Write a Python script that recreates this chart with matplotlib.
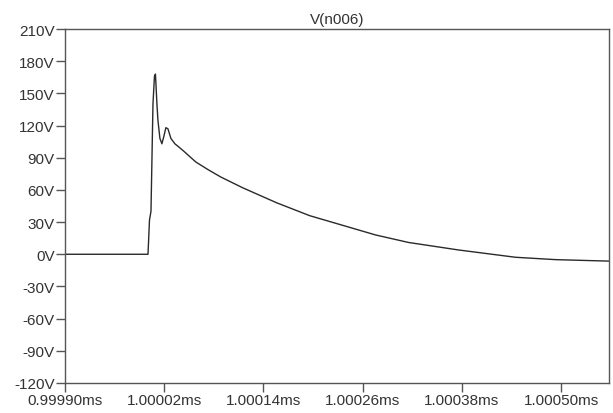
import matplotlib
matplotlib.use('Agg')
import matplotlib.pyplot as plt
from matplotlib.ticker import FixedLocator

plt.rcParams['font.family'] = ['Liberation Sans', 'DejaVu Sans']

# transient of V(n006), time in ms, voltage in V
time_ms = [0.99990, 1.0000004, 1.0000022, 1.0000040, 1.0000052, 1.0000064,
           1.0000082, 1.0000094, 1.0000112, 1.0000124, 1.0000148, 1.0000172,
           1.0000196, 1.0000220, 1.0000245, 1.0000281, 1.0000329, 1.0000377,
           1.0000438, 1.0000510, 1.0000583, 1.0000728, 1.0000885, 1.0001149,
           1.0001560, 1.0001959, 1.0002358, 1.0002757, 1.0003156, 1.0003761,
           1.0004450, 1.0004934, 1.0005684]
volts = [0, 0, 32, 40, 90, 140,
         166, 168, 140, 125, 108, 103,
         110, 118, 117, 108, 103, 100,
         96, 91, 86, 79, 72, 62,
         48, 36, 27, 18, 11, 4,
         -2.8, -5.0, -6.6]

yticks = list(range(-120, 211, 30))
xticks = [0.99990, 1.00002, 1.00014, 1.00026, 1.00038, 1.00050]

fig = plt.figure(figsize=(6.13, 4.14), dpi=100)
ax = fig.add_axes([65 / 613, 30 / 414, 544 / 613, 354 / 414])
ax.plot(time_ms, volts, color='#2a2a2a', lw=1.0)

ax.set_xlim(0.99990, 1.000558)
ax.set_ylim(-120, 210)
ax.yaxis.set_major_locator(FixedLocator(yticks))
ax.set_yticklabels(['%dV' % v for v in yticks])
ax.xaxis.set_major_locator(FixedLocator(xticks))
ax.set_xticklabels(['%.5fms' % t for t in xticks])

for s in ax.spines.values():
    s.set_color('#555555')
    s.set_linewidth(1.0)
ax.tick_params(axis='both', direction='out', length=6.5, width=1.0,
               color='#555555', labelsize=11, labelcolor='#333333', pad=1)
ax.tick_params(axis='x', pad=1)
ax.set_title('V(n006)', fontsize=11, color='#333333', pad=4)

fig.savefig('out.png', dpi=100)
